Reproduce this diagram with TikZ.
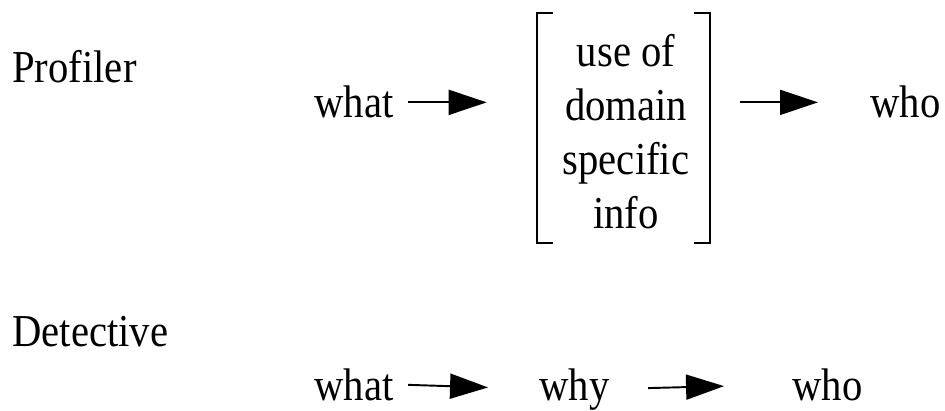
\documentclass[tikz,border=0pt]{standalone}
\usepackage{fontspec}
\setmainfont{Liberation Serif}[FakeStretch=0.89]
\usetikzlibrary{arrows.meta,positioning}

\tikzset{
  word/.style={inner sep=0pt, anchor=base west, font=\fontsize{26}{32}\selectfont},
  line/.style={inner sep=0pt, anchor=base, font=\fontsize{26}{32}\selectfont},
  flow/.style={-{Triangle[length=0.76cm,width=0.5cm]}, line width=1.1pt},
  bracket/.style={line width=1.1pt}
}

\begin{document}
\begin{tikzpicture}[x=0.02cm,y=-0.02cm]
    \useasboundingbox (0,0) rectangle (945,411);

    % Profiler row
    \node[word] (profiler) at (12,83) {Profiler};
    \node[word] (what1) at (314,118) {what};
    \node[word] (who1) at (870,118) {who};

    % Lines inside the brackets
    \node[line] (use) at (626,67) {use of};
    \node[line] (domain) at (626,121) {domain};
    \node[line] (specific) at (626,175) {specific};
    \node[line] (info) at (626,229) {info};

    % Draw the brackets
    \node[minimum width=3.46cm, minimum height=4.6cm, inner sep=0pt] (box) at (623.5,128) {};
    \draw[bracket] ([xshift=0.32cm]box.north west) -- (box.north west) -- (box.south west) -- ([xshift=0.32cm]box.south west);
    \draw[bracket] ([xshift=-0.32cm]box.north east) -- (box.north east) -- (box.south east) -- ([xshift=-0.32cm]box.south east);

    % Arrows of the first row
    \draw[flow, shorten <=0.29cm, shorten >=1cm] (what1.east) -- (what1.east -| box.west);
    \draw[flow, shorten <=0.6cm, shorten >=1.04cm] (box.east |- who1.west) -- (who1.west);

    % Detective row
    \node[word] (detective) at (12,346) {Detective};
    \node[word] (what2) at (314,400) {what};
    \node[word] (why) at (539,400) {why};
    \node[word] (who2) at (792,400) {who};

    % Arrows of the second row
    \draw[flow, shorten <=0.29cm, shorten >=1.02cm] (what2.east) -- (why.west);
    \draw[flow, shorten <=0.77cm, shorten >=1.36cm] (why.east) -- (who2.west);

\end{tikzpicture}
\end{document}
